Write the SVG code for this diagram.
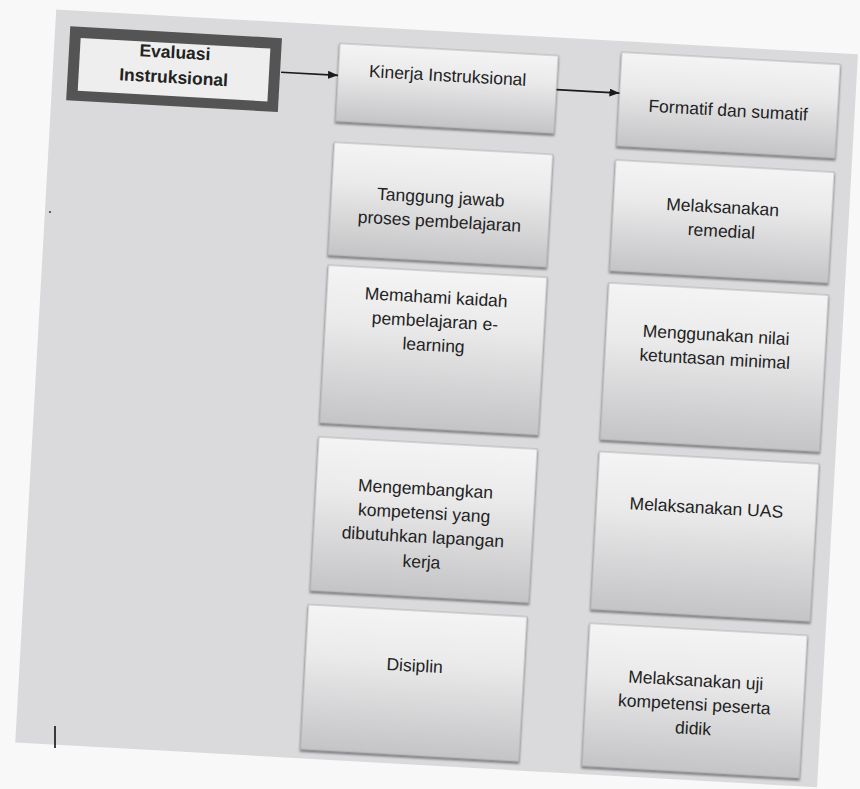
<svg xmlns="http://www.w3.org/2000/svg" width="860" height="789" viewBox="0 0 860 789">
  <defs>
    <linearGradient id="boxGrad" x1="0" y1="0" x2="0" y2="1">
      <stop offset="0" stop-color="#f4f4f4"/>
      <stop offset="0.35" stop-color="#eaeaeb"/>
      <stop offset="1" stop-color="#c4c4c6"/>
    </linearGradient>
    <filter id="shadow" x="-5%" y="-5%" width="110%" height="115%">
      <feDropShadow dx="0" dy="2" stdDeviation="1" flood-color="#555" flood-opacity="0.75"/>
    </filter>
    <marker id="arrow" viewBox="0 0 10 8" refX="10" refY="4" markerWidth="10" markerHeight="8" markerUnits="userSpaceOnUse" orient="auto">
      <path d="M0,0 L10,4 L0,8 z" fill="#1a1a1a"/>
    </marker>
  </defs>
  <style>
    .box { fill: url(#boxGrad); stroke: #a9a9ab; stroke-width: 0.8; filter: url(#shadow); }
    .lbl { font-family: "Liberation Sans", Arial, sans-serif; font-size: 17.5px; fill: #222; text-anchor: middle; }
    .bold { font-weight: bold; }
    .conn { stroke: #1a1a1a; stroke-width: 1.6; fill: none; marker-end: url(#arrow); }
  </style>

  <rect x="0" y="0" width="860" height="789" fill="#f8f8f8"/>

  <g transform="rotate(3.2 430 400)">
    <rect id="panel" x="35" y="31" width="803" height="734" fill="#dadadd"/>

    <g id="evaluasi">
      <rect x="50" y="47" width="212" height="74" fill="#545454"/>
      <rect x="61" y="58" width="190" height="53" fill="#eeeeee"/>
      <text class="lbl bold" x="156" y="73">Evaluasi</text>
      <text class="lbl bold" x="156" y="98">Instruksional</text>
    </g>

    <g id="kinerja">
      <rect class="box" x="320" y="49" width="219" height="78"/>
      <text class="lbl" x="429.5" y="81">Kinerja Instruksional</text>
    </g>
    <g id="tanggung">
      <rect class="box" x="320" y="148" width="219" height="113"/>
      <text class="lbl" x="429.5" y="203">Tanggung jawab</text>
      <text class="lbl" x="429.5" y="227">proses pembelajaran</text>
    </g>
    <g id="memahami">
      <rect class="box" x="321" y="271" width="219" height="158"/>
      <text class="lbl" x="430.5" y="303">Memahami kaidah</text>
      <text class="lbl" x="430.5" y="327">pembelajaran e-</text>
      <text class="lbl" x="430.5" y="351">learning</text>
    </g>
    <g id="mengembangkan">
      <rect class="box" x="321" y="443" width="219" height="154"/>
      <text class="lbl" x="430.5" y="495">Mengembangkan</text>
      <text class="lbl" x="430.5" y="519">kompetensi yang</text>
      <text class="lbl" x="430.5" y="543">dibutuhkan lapangan</text>
      <text class="lbl" x="430.5" y="568">kerja</text>
    </g>
    <g id="disiplin">
      <rect class="box" x="320" y="611" width="219" height="145"/>
      <text class="lbl" x="429.5" y="672">Disiplin</text>
    </g>

    <g id="formatif">
      <rect class="box" x="602" y="42" width="219" height="94"/>
      <text class="lbl" x="711.5" y="100">Formatif dan sumatif</text>
    </g>
    <g id="remedial">
      <rect class="box" x="602" y="150" width="219" height="111"/>
      <text class="lbl" x="711.5" y="197">Melaksanakan</text>
      <text class="lbl" x="711.5" y="221">remedial</text>
    </g>
    <g id="menggunakan">
      <rect class="box" x="602" y="273" width="220" height="157"/>
      <text class="lbl" x="712" y="325">Menggunakan nilai</text>
      <text class="lbl" x="712" y="349">ketuntasan minimal</text>
    </g>
    <g id="uas">
      <rect class="box" x="602" y="442" width="220" height="158"/>
      <text class="lbl" x="712" y="498">Melaksanakan UAS</text>
    </g>
    <g id="uji">
      <rect class="box" x="602" y="614" width="218" height="143"/>
      <text class="lbl" x="711" y="671">Melaksanakan uji</text>
      <text class="lbl" x="711" y="695">kompetensi peserta</text>
      <text class="lbl" x="711" y="719">didik</text>
    </g>

    <g id="connectors">
      <line class="conn" x1="263" y1="81" x2="320" y2="81"/>
      <line class="conn" x1="539" y1="83" x2="602" y2="83"/>
    </g>
  </g>

  <line x1="55" y1="726" x2="55" y2="748" stroke="#111" stroke-width="1.6"/>
  <circle cx="50" cy="212" r="1.1" fill="#444"/>
</svg>
